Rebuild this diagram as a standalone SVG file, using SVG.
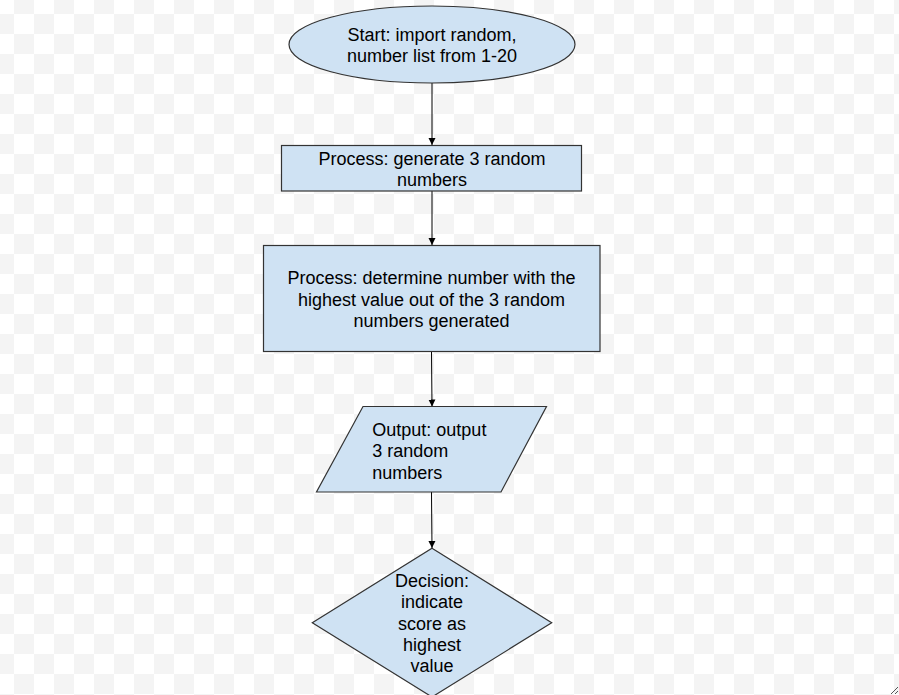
<svg xmlns="http://www.w3.org/2000/svg" width="899" height="695" viewBox="0 0 899 695">
  <defs>
    <pattern id="checker" x="-6" y="-6" width="40" height="40" patternUnits="userSpaceOnUse">
      <rect width="40" height="40" fill="#ffffff"/>
      <rect x="20" y="0" width="20" height="20" fill="#f4f4f4"/>
      <rect x="0" y="20" width="20" height="20" fill="#f4f4f4"/>
    </pattern>
    <marker id="arrow" viewBox="0 0 10 10" refX="10" refY="5" markerWidth="7" markerHeight="10" markerUnits="userSpaceOnUse" orient="auto">
      <path d="M0,0 L10,5 L0,10 Z" fill="#000"/>
    </marker>
    <style>
      .shape { fill: #cfe2f3; stroke: #333333; stroke-width: 1.2; }
      .conn { stroke: #000; stroke-width: 1; fill: none; marker-end: url(#arrow); }
      text { font-family: "Liberation Sans", Arial, sans-serif; font-size: 18px; fill: #000; }
      .c { text-anchor: middle; }
    </style>
  </defs>
  <rect width="899" height="695" fill="url(#checker)"/>

  <g id="connectors">
    <line class="conn" x1="432" y1="83" x2="432" y2="145"/>
    <line class="conn" x1="432" y1="191" x2="432" y2="245"/>
    <line class="conn" x1="431.5" y1="352" x2="432" y2="406.5"/>
    <line class="conn" x1="431.5" y1="492" x2="432" y2="548"/>
  </g>

  <g id="start">
    <ellipse class="shape" cx="432" cy="44.5" rx="143" ry="38.5"/>
    <text class="c" x="432" y="40.7">Start: import random,</text>
    <text class="c" x="432" y="61.7">number list from 1-20</text>
  </g>

  <g id="process1">
    <rect class="shape" x="281.5" y="145.5" width="300" height="45.5"/>
    <text class="c" x="432" y="165">Process: generate 3 random</text>
    <text class="c" x="432" y="186">numbers</text>
  </g>

  <g id="process2">
    <rect class="shape" x="263.5" y="245.5" width="336.5" height="106"/>
    <text class="c" x="431.5" y="284">Process: determine number with the</text>
    <text class="c" x="431.5" y="305.5">highest value out of the 3 random</text>
    <text class="c" x="431.5" y="327">numbers generated</text>
  </g>

  <g id="output">
    <polygon class="shape" points="363,406.5 546.5,406.5 501,492 316.5,492"/>
    <text x="372.3" y="435.5">Output: output</text>
    <text x="372.3" y="457">3 random</text>
    <text x="372.3" y="478.5">numbers</text>
  </g>

  <g id="decision">
    <polygon class="shape" points="432,548.3 551.7,622.7 432,697 312.3,622.7"/>
    <text class="c" x="432" y="587.3">Decision:</text>
    <text class="c" x="432" y="608.4">indicate</text>
    <text class="c" x="432" y="629.5">score as</text>
    <text class="c" x="432" y="650.6">highest</text>
    <text class="c" x="432" y="671.7">value</text>
  </g>

  <g id="resize-grip" stroke="#555" stroke-width="1">
    <line x1="891" y1="694" x2="898" y2="687"/>
    <line x1="895" y1="694" x2="898" y2="691"/>
  </g>
</svg>
